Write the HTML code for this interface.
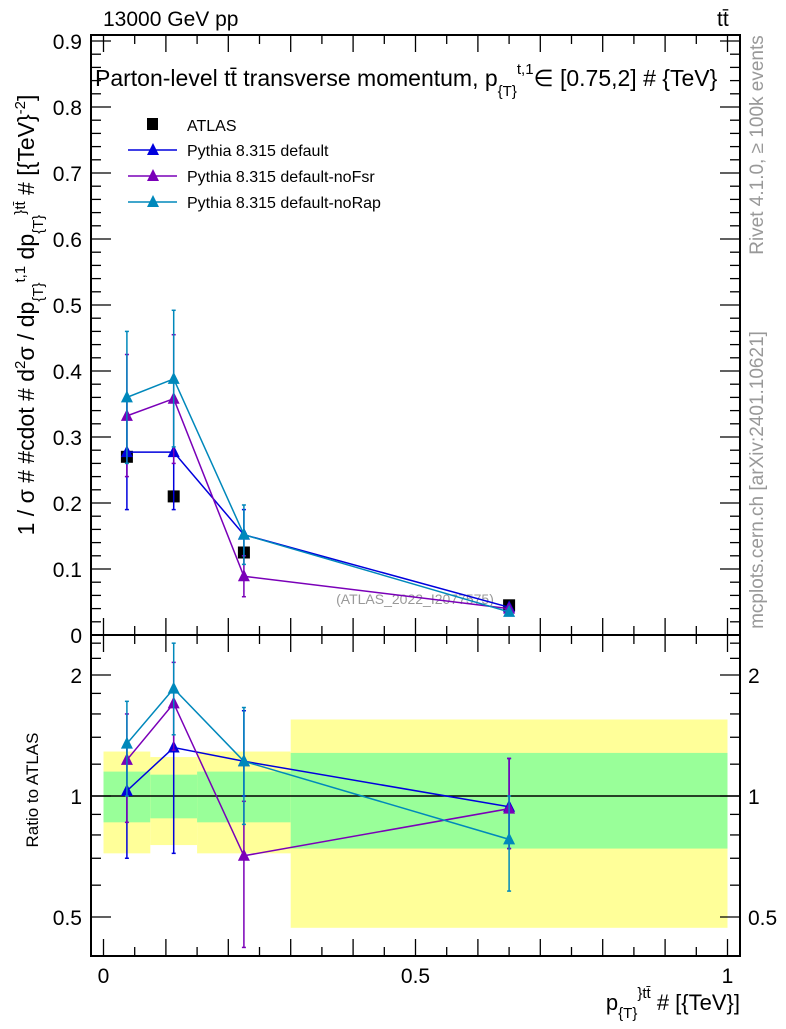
<!DOCTYPE html>
<html><head><meta charset="utf-8"><style>
body{margin:0;background:#fff;width:786px;height:1024px;overflow:hidden}
svg{font-family:"Liberation Sans",sans-serif}
</style></head><body>
<svg id="c" width="786" height="1024" xmlns="http://www.w3.org/2000/svg"></svg>
<script>
const binEdges=[0,0.075,0.15,0.3,1];
const xCenters=[0.0375,0.1125,0.225,0.65];
const atlas=[0.27,0.21,0.125,0.045];
const atlasErr=[0.01,0.01,0.008,0.004];
const defVals=[0.277,0.277,0.152,0.042];
const defLo=[0.19,0.19,0.12,0.038];
const defHi=[0.36,0.36,0.19,0.046];
const fsrVals=[0.332,0.358,0.089,0.040];
const fsrLo=[0.24,0.26,0.058,0.036];
const fsrHi=[0.425,0.455,0.12,0.044];
const rapVals=[0.36,0.388,0.152,0.035];
const rapLo=[0.26,0.285,0.107,0.031];
const rapHi=[0.46,0.492,0.197,0.039];
const defRatio=[1.03,1.32,1.22,0.94];
const defRLo=[0.70,0.72,1.0,0.74];
const defRHi=[1.36,1.72,1.63,1.24];
const fsrRatio=[1.23,1.70,0.71,0.93];
const fsrRLo=[0.86,1.30,0.42,0.74];
const fsrRHi=[1.60,2.15,0.97,1.24];
const rapRatio=[1.35,1.85,1.22,0.78];
const rapRLo=[1.0,1.42,0.85,0.58];
const rapRHi=[1.72,2.40,1.66,1.0];
const yellowLo=[0.72,0.755,0.72,0.47];
const yellowHi=[1.29,1.25,1.29,1.55];
const greenLo=[0.86,0.88,0.86,0.74];
const greenHi=[1.15,1.13,1.15,1.28];
const mainTicks=[0,0.1,0.2,0.3,0.4,0.5,0.6,0.7,0.8,0.9];
const mainTickLabels=["0","0.1","0.2","0.3","0.4","0.5","0.6","0.7","0.8","0.9"];
const ratioTicks=[0.5,1,2];
const ratioTickLabels=["0.5","1","2"];
const xTicks=[0,0.5,1];
const xTickLabels=["0","0.5","1"];

const L=91,R=740,T=35,M=635,B=956;
const X=v=>103.5+624*v;
const Y=v=>635-660*v;
const YR=r=>796-121*Math.log2(r);
const svg=document.getElementById('c');
const NS='http://www.w3.org/2000/svg';
function el(tag,attrs,parent){const e=document.createElementNS(NS,tag);for(const k in attrs)e.setAttribute(k,attrs[k]);(parent||svg).appendChild(e);return e;}
function txt(s,attrs){const e=el('text',attrs);e.textContent=s;return e;}

for(let i=0;i<4;i++){
 let r=el('rect',{x:X(binEdges[i]),y:YR(yellowHi[i]),width:X(binEdges[i+1])-X(binEdges[i]),height:YR(yellowLo[i])-YR(yellowHi[i]),fill:'#ffff99'});
 
 
 let g=el('rect',{x:X(binEdges[i]),y:YR(greenHi[i]),width:X(binEdges[i+1])-X(binEdges[i]),height:YR(greenLo[i])-YR(greenHi[i]),fill:'#99ff99'});
 
 
}
let one=el('line',{x1:L,x2:R,y1:YR(1),y2:YR(1),stroke:'#000','stroke-width':1.5});



let f1=el('rect',{x:L,y:T,width:R-L,height:M-T,fill:'none',stroke:'#000','stroke-width':2});


let f2=el('rect',{x:L,y:M,width:R-L,height:B-M,fill:'none',stroke:'#000','stroke-width':2});



for(let v=0;v<=0.905;v+=0.02){
 const maj=Math.abs(v*10-Math.round(v*10))<1e-6;const len=maj?20:10;const y=Y(v);
 el('line',{x1:L,x2:L+len,y1:y,y2:y,stroke:'#000','stroke-width':1.3});
 el('line',{x1:R,x2:R-len,y1:y,y2:y,stroke:'#000','stroke-width':1.3});
}
mainTicks.forEach((v,i)=>{const t=txt(mainTickLabels[i],{x:82,y:Y(v)+8,'text-anchor':'end','font-size':21});
 
 });
for(let v=0;v<=1.001;v+=0.05){
 const maj=Math.abs(v*10-Math.round(v*10))<1e-6;const len=maj?17:9;const x=X(v);
 el('line',{x1:x,x2:x,y1:M,y2:M-len,stroke:'#000','stroke-width':1.3});
 el('line',{x1:x,x2:x,y1:T,y2:T+len,stroke:'#000','stroke-width':1.3});
 el('line',{x1:x,x2:x,y1:M,y2:M+len,stroke:'#000','stroke-width':1.3});
 el('line',{x1:x,x2:x,y1:B,y2:B-len,stroke:'#000','stroke-width':1.3});
}
xTicks.forEach((v,i)=>{const t=txt(xTickLabels[i],{x:X(v),y:983,'text-anchor':'middle','font-size':21});
 
 });
const rt=[0.4,0.5,0.6,0.7,0.8,0.9,1,1.2,1.4,1.6,1.8,2,2.2,2.4];
rt.forEach(r=>{const y=YR(r);if(y<M||y>B)return;const maj=ratioTicks.includes(r);const len=maj?20:10;
 el('line',{x1:L,x2:L+len,y1:y,y2:y,stroke:'#000','stroke-width':1.3});
 el('line',{x1:R,x2:R-len,y1:y,y2:y,stroke:'#000','stroke-width':1.3});});
ratioTicks.forEach((r,i)=>{
 const a=txt(ratioTickLabels[i],{x:82,y:YR(r)+8,'text-anchor':'end','font-size':21});
 
 
 const b=txt(ratioTickLabels[i],{x:748,y:YR(r)+8,'font-size':21});
 
 });

function tri(x,y,c,name){const p=el('polygon',{points:`${x-6},${y+5} ${x+6},${y+5} ${x},${y-7}`,fill:c});
 
 }
function series(vals,lo,hi,c,yf,name){
 const pts=xCenters.map((x,i)=>X(x)+','+yf(vals[i])).join(' ');
 const l=el('polyline',{points:pts,fill:'none',stroke:c,'stroke-width':1.5});
 
 
 xCenters.forEach((x,i)=>{const px=X(x);
  el('line',{x1:px,x2:px,y1:yf(lo[i]),y2:yf(hi[i]),stroke:c,'stroke-width':1.5});
  el('line',{x1:px-2,x2:px+2,y1:yf(lo[i]),y2:yf(lo[i]),stroke:c,'stroke-width':1.5});
  el('line',{x1:px-2,x2:px+2,y1:yf(hi[i]),y2:yf(hi[i]),stroke:c,'stroke-width':1.5});
  tri(px,yf(vals[i]),c,name+'-marker');});
}
xCenters.forEach((x,i)=>{const px=X(x),py=Y(atlas[i]);
 el('line',{x1:px,x2:px,y1:Y(atlas[i]-atlasErr[i]),y2:Y(atlas[i]+atlasErr[i]),stroke:'#000','stroke-width':1.5});
 const r=el('rect',{x:px-6,y:py-6,width:12,height:12,fill:'#000'});
 
 });
const wm=txt('(ATLAS_2022_I2077575)',{x:415,y:604,'text-anchor':'middle','font-size':14,fill:'#999'});


series(defVals,defLo,defHi,'#0000dd',Y,'default');
series(fsrVals,fsrLo,fsrHi,'#7a00b8',Y,'nofsr');
series(rapVals,rapLo,rapHi,'#0088bb',Y,'norap');
series(defRatio,defRLo,defRHi,'#0000dd',YR,'ratio-default');
series(fsrRatio,fsrRLo,fsrRHi,'#7a00b8',YR,'ratio-nofsr');
series(rapRatio,rapRLo,rapRHi,'#0088bb',YR,'ratio-norap');
</script>
<svg width="786" height="1024" style="position:absolute;left:0;top:0">
<text x="103" y="26" font-size="21">13000 GeV pp</text>
<text x="717" y="26" font-size="21">tt̄</text>
<text x="95" y="86" font-size="23">Parton-level tt̄ transverse momentum, p<tspan font-size="15" dy="10">{T}</tspan><tspan font-size="15" dy="-22">t,1</tspan><tspan dy="12">∈ [0.75,2] # {TeV}</tspan></text>
<g>
<rect x="147" y="118" width="11" height="12" fill="#000"/>
<text x="187" y="131" font-size="16">ATLAS</text>
<line x1="128" x2="177" y1="150" y2="150" stroke="#0000dd" stroke-width="1.5"/><polygon points="147,155 159,155 153,143" fill="#0000dd"/>
<text x="187" y="156" font-size="16">Pythia 8.315 default</text>
<line x1="128" x2="177" y1="176" y2="176" stroke="#7a00b8" stroke-width="1.5"/><polygon points="147,181 159,181 153,169" fill="#7a00b8"/>
<text x="187" y="182" font-size="16">Pythia 8.315 default-noFsr</text>
<line x1="128" x2="177" y1="202" y2="202" stroke="#0088bb" stroke-width="1.5"/><polygon points="147,207 159,207 153,195" fill="#0088bb"/>
<text x="187" y="208" font-size="16">Pythia 8.315 default-noRap</text>
</g>
<text transform="translate(34,315) rotate(-90)" text-anchor="middle" font-size="23">1 / σ # #cdot # d<tspan font-size="15" dy="-9">2</tspan><tspan dy="9">σ / dp</tspan><tspan font-size="15" dy="9">{T}</tspan><tspan font-size="15" dy="-18">t,1</tspan><tspan dy="9"> dp</tspan><tspan font-size="15" dy="9">{T}</tspan><tspan font-size="15" dy="-18">}tt̄</tspan><tspan dy="9"> # [{TeV}</tspan><tspan font-size="15" dy="-9">-2</tspan><tspan dy="9">]</tspan></text>
<text transform="translate(38,790) rotate(-90)" text-anchor="middle" font-size="17">Ratio to ATLAS</text>
<text x="740" y="1010" text-anchor="end" font-size="22">p<tspan font-size="15" dy="8">{T}</tspan><tspan font-size="15" dy="-20">}tt̄</tspan><tspan dy="12"> # [{TeV}]</tspan></text>
<text transform="translate(763,145) rotate(-90)" text-anchor="middle" font-size="19" fill="#999">Rivet 4.1.0, ≥ 100k events</text>
<text transform="translate(763,480) rotate(-90)" text-anchor="middle" font-size="19" fill="#999">mcplots.cern.ch [arXiv:2401.10621]</text>
</svg>
</body></html>
